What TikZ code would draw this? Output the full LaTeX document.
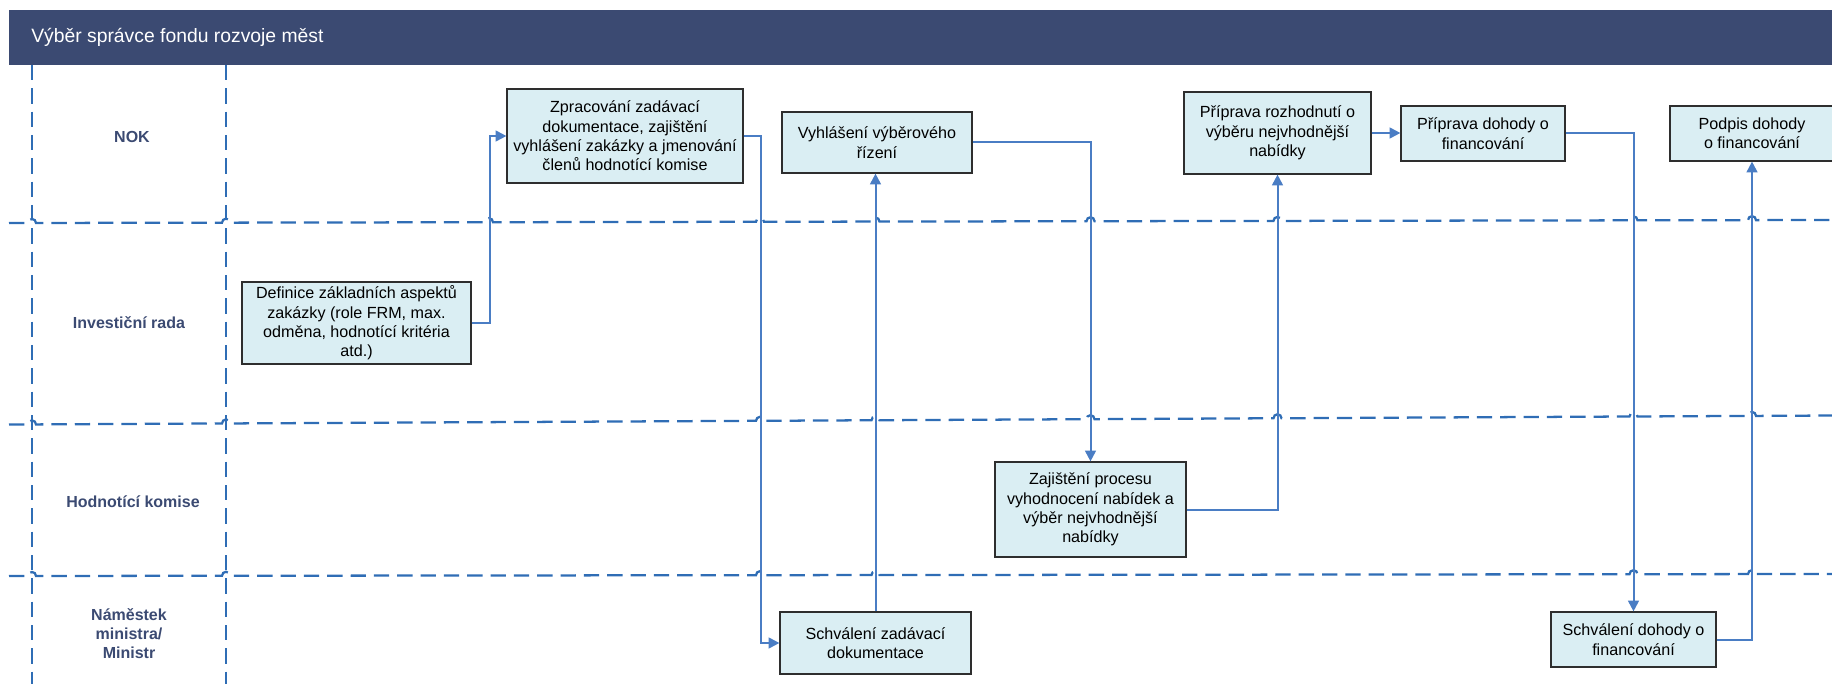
\documentclass[tikz,border=0pt]{standalone}
\usepackage{fontspec}
\setmainfont{Liberation Sans}
\usetikzlibrary{arrows.meta}

\definecolor{headerblue}{HTML}{3B4A72}
\definecolor{lanedash}{HTML}{2F6DB5}
\definecolor{flowblue}{HTML}{4A7DC4}
\definecolor{boxfill}{HTML}{DAEEF3}
\definecolor{boxedge}{HTML}{2E2E2E}

\tikzset{
  lane/.style={draw=lanedash, line width=1.7pt, dash pattern=on 11.5pt off 6pt},
  stepbox/.style={draw=boxedge, fill=boxfill, line width=0.9pt, inner sep=0pt,
    align=center, font=\fontsize{12.1}{14.5}\selectfont},
  % box size given in drawing units (1 unit = 0.75pt)
  boxsize/.style 2 args={minimum width={#1*0.75pt}, minimum height={#2*0.75pt}},
  lanelabel/.style={text=headerblue, align=center, inner sep=0pt,
    font=\fontsize{12}{14.3}\selectfont\bfseries},
  flow/.style={draw=flowblue, line width=1.5pt, -{Triangle[length=8pt,width=8pt]}},
}

% horizontal lane separator: y at left, y at right, x of crossings that get a hop
\newcommand{\hoprule}[3]{%
  \draw[lane] (9,#1) \foreach \cx in {#3} {
      -- ({\cx-4},{#1+(#2-#1)*(\cx-13)/1823}) arc[start angle=180,end angle=0,radius=3pt]
    } -- (1832,#2);
}

\begin{document}
\begin{tikzpicture}[x=0.75pt,y=-0.75pt]
\useasboundingbox (0,0) rectangle (1832,684);
\clip (0,0) rectangle (1832,684);

% title bar
\fill[headerblue] (9,10) rectangle (1832,65);
\node[anchor=west, inner sep=0pt, text=white, font=\fontsize{14.5}{17}\selectfont]
  (title) at (31,37) {Výběr správce fondu rozvoje měst};

% swimlane separators
\draw[lane] (32,65) -- (32,684);
\draw[lane] (226,65) -- (226,684);
\hoprule{223}{220}{32,226,489,760,875.5,1090.5,1277.5,1633.5,1752}
\hoprule{424.5}{415.5}{32,226,760,875.5,1090.5,1277.5,1633.5,1752}
\hoprule{576}{574}{32,226,760,875.5,1633.5,1752}

% lane names
\node[lanelabel] (lnok) at (132,137) {NOK};
\node[lanelabel] (lir)  at (129,323) {Investiční rada};
\node[lanelabel] (lhk)  at (133,502) {Hodnotící komise};
\node[lanelabel] (lmin) at (129,634) {Náměstek\\ministra/\\Ministr};

% process steps
\node[stepbox, boxsize={229}{82}] (b1) at (356.5,323)
  {Definice základních aspektů\\zakázky (role FRM, max.\\odměna, hodnotící kritéria\\atd.)};
\node[stepbox, boxsize={236}{94}] (b2) at (625,136)
  {Zpracování zadávací\\dokumentace, zajištění\\vyhlášení zakázky a jmenování\\členů hodnotící komise};
\node[stepbox, boxsize={190}{61}] (b3) at (877,142.5)
  {Vyhlášení výběrového\\řízení};
\node[stepbox, boxsize={187}{82}] (b4) at (1277.5,133)
  {Příprava rozhodnutí o\\výběru nejvhodnější\\nabídky};
\node[stepbox, boxsize={164}{55}] (b5) at (1483,133.5)
  {Příprava dohody o\\financování};
\node[stepbox, boxsize={164}{55}] (b6) at (1752,133.5)
  {Podpis dohody\\o financování};
\node[stepbox, boxsize={191}{95}] (b7) at (1090.5,509.5)
  {Zajištění procesu\\vyhodnocení nabídek a\\výběr nejvhodnější\\nabídky};
\node[stepbox, boxsize={191}{62}] (b8) at (875.5,643)
  {Schválení zadávací\\dokumentace};
\node[stepbox, boxsize={165}{55}] (b9) at (1633.5,639.5)
  {Schválení dohody o\\financování};

% flow
\draw[flow] (b1.east) -- ++(18,0) |- (b2.west);
\draw[flow] (b2.east) -- ++(17,0) |- (b8.west);
\draw[flow] (b8.north) -- (b8.north |- b3.south);
\draw[flow] (b3.east) -| (b7.north);
\draw[flow] (b7.east) -| (b4.south);
\draw[flow] (b4.east) -- (b4.east -| b5.west);
\draw[flow] (b5.east) -| (b9.north);
\draw[flow] (b9.east) -| (b6.south);
\end{tikzpicture}
\end{document}
